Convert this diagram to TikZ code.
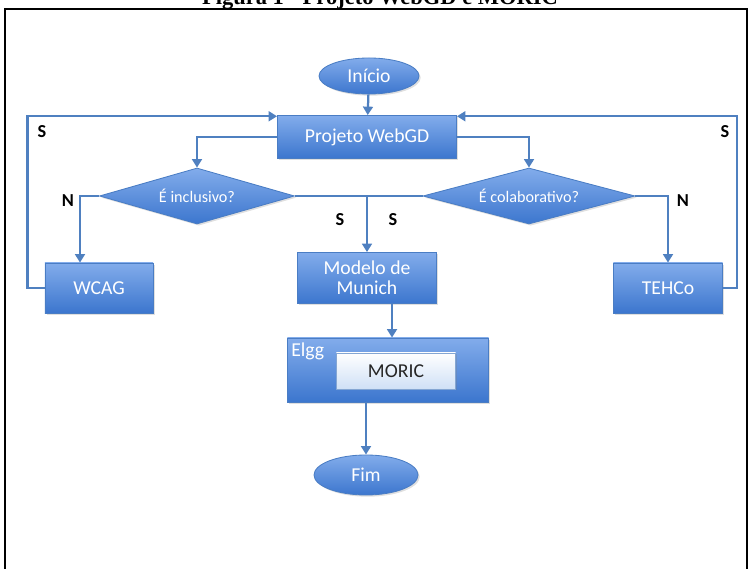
\documentclass[tikz,border=0pt]{standalone}
\usepackage{fontspec}
\setmainfont{Carlito}
\newfontfamily\titlefont{Liberation Serif}
\usetikzlibrary{shapes.geometric,arrows.meta,shadows}
\definecolor{boxtop}{HTML}{82ACEB}
\definecolor{boxbot}{HTML}{3C76CE}
\definecolor{boxline}{HTML}{4A7DC4}
\definecolor{arrowline}{HTML}{4F80C0}
\definecolor{moricbot}{HTML}{CFE0F6}
\tikzset{
  blockbox/.style={rectangle, draw=boxline, line width=0.6pt, top color=boxtop, bottom color=boxbot,
    text=white, align=center, font=\fontsize{14}{15}\selectfont, inner sep=2pt,
    drop shadow={opacity=0.25, shadow xshift=1.2pt, shadow yshift=-1.2pt}},
  termbox/.style={blockbox, ellipse},
  testbox/.style={blockbox, diamond, aspect=3.5, inner sep=0pt, font=\fontsize{11.5}{13}\selectfont},
  innerbox/.style={rectangle, draw=arrowline!70, line width=0.6pt, top color=white, bottom color=moricbot,
    text=black!85, font=\fontsize{14}{15}\selectfont,
    drop shadow={opacity=0.25, shadow xshift=1pt, shadow yshift=-1pt}},
  flow/.style={draw=arrowline, line width=1.6pt, -{Triangle[length=6pt,width=7pt]}},
  plain/.style={draw=arrowline, line width=1.6pt},
  answer/.style={font=\bfseries\fontsize{13}{14}\selectfont, text=black}
}
\begin{document}
\begin{tikzpicture}[x=0.025cm, y=-0.025cm]
\useasboundingbox (0,0) rectangle (750,569);
\clip (0,0) rectangle (750,569);
% frame and caption
\node[font=\titlefont\bfseries\fontsize{16}{18}\selectfont, anchor=base] (title) at (380,5) {Figura 1 - Projeto WebGD e MORIC};
\draw[line width=1.3pt] (5,9) rectangle (747,600);
% blocks
\node[termbox, minimum width=2.5cm, minimum height=0.9cm] (start) at (369,76) {Início};
\node[blockbox, minimum width=4.475cm, minimum height=1.075cm] (proj) at (367,137) {Projeto WebGD};
\node[testbox, minimum width=4.875cm, minimum height=1.4cm] (incl) at (197,196) {É inclusivo?};
\node[testbox, minimum width=5.3cm, minimum height=1.4cm] (colab) at (529,196) {É colaborativo?};
\node[blockbox, minimum width=2.7cm, minimum height=1.25cm] (wcag) at (99,288) {WCAG};
\node[blockbox, minimum width=3.475cm, minimum height=1.275cm] (munich) at (367,278) {Modelo de\\[-1pt]Munich};
\node[blockbox, minimum width=2.725cm, minimum height=1.25cm] (tehco) at (668,288) {TEHCo};
\node[blockbox, minimum width=5.025cm, minimum height=1.6cm] (elgg) at (388,370) {};
\node[text=white, font=\fontsize{14}{15}\selectfont, anchor=north west, inner sep=0pt] (elgglabel) at (291,343) {Elgg};
\node[innerbox, minimum width=2.975cm, minimum height=0.9cm] (moric) at (396,371) {MORIC};
\node[termbox, minimum width=2.6cm, minimum height=1cm] (end) at (366,475) {Fim};
% answers
\node[answer] (s1) at (42,132) {S};
\node[answer] (s2) at (725,132) {S};
\node[answer] (n1) at (68,201) {N};
\node[answer] (n2) at (683,201) {N};
\node[answer] (s3) at (340,220) {S};
\node[answer] (s4) at (393,220) {S};
% connectors
\draw[flow] (start) -- (proj);
\draw[flow] (proj.west) -| (incl.north);
\draw[flow] (proj.east) -| (colab.north);
\draw[plain] (incl.east) -- (colab.west);
\draw[flow] (incl.east -| munich.north) -- (munich.north);
\draw[flow] (incl.west) -| ([xshift=-0.475cm]wcag.north);
\draw[flow] (colab.east) -| (tehco.north);
\draw[flow] (wcag.west) -- ++(-17,0) |- ([yshift=-0.03cm]proj.north west);
\draw[flow] (tehco.east) -- ++(14,0) |- ([yshift=-0.03cm]proj.north east);
\draw[flow] ([xshift=0.625cm]munich.south) -- ([xshift=0.625cm]munich.south |- elgg.north);
\draw[flow] (end.north |- elgg.south) -- (end.north);
\end{tikzpicture}
\end{document}
